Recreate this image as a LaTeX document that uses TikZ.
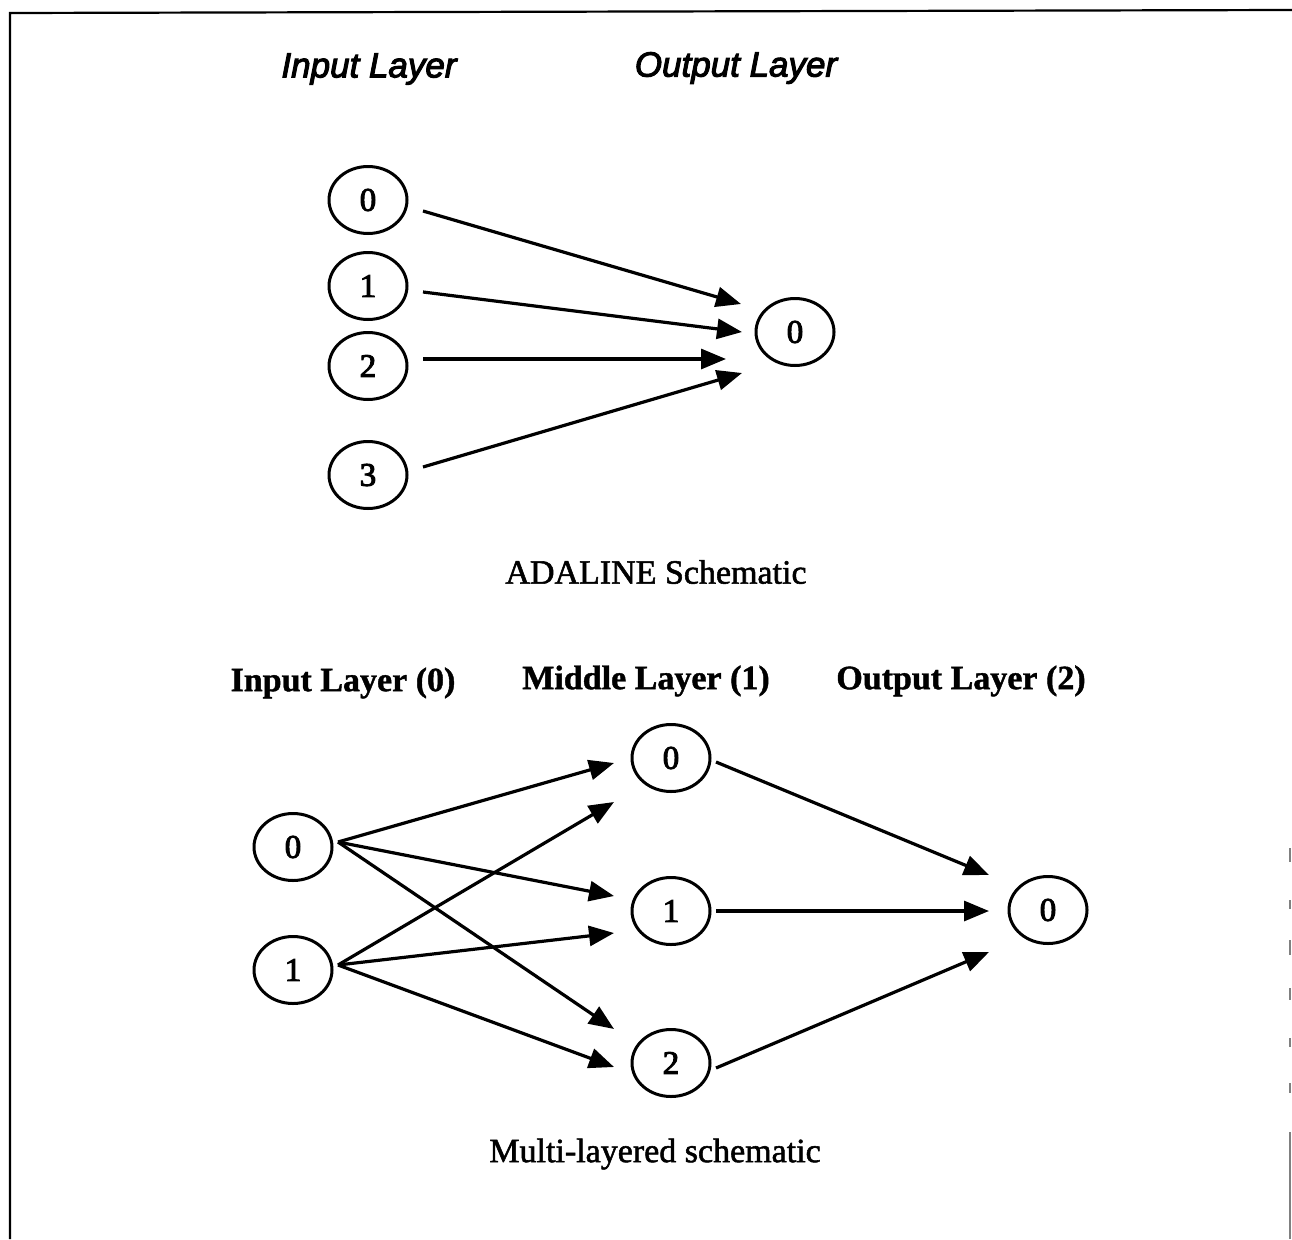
\documentclass[tikz,border=0pt]{standalone}
\usepackage{fontspec}
\setmainfont{Liberation Serif}
\newfontfamily\labelsans{Liberation Sans}
\usetikzlibrary{shapes.geometric,arrows.meta,calc}
\begin{document}
\begin{tikzpicture}[x=1pt,y=-1pt,
  unit/.style={ellipse,draw,line width=3pt,minimum width=78pt,minimum height=67pt,
    inner sep=0pt,font=\fontsize{33}{33}\selectfont\addfontfeature{FakeBold=3}},
  link/.style={line width=3.2pt,-{Triangle[length=25pt,width=20pt]}},
  caption/.style={font=\fontsize{34}{40}\selectfont\addfontfeature{FakeBold=1.6}},
  layerit/.style={font=\labelsans\itshape\fontsize{35}{40}\selectfont\addfontfeature{FakeBold=3}},
  layerbf/.style={font=\bfseries\fontsize{34}{40}\selectfont\addfontfeature{FakeBold=1.2}},
  frame/.style={line width=2.2pt},
  faint/.style={line width=1.8pt,black!50}]
\useasboundingbox (0,0) rectangle (1292,1239);

% page frame
\draw[frame] (10,1239) -- (10,13) -- (1292,10);
\foreach \a/\b in {848/862,900/909,940/955,988/1000,1038/1047,1083/1093}
  \draw[faint] (1290,\a) -- (1290,\b);
\draw[faint] (1290,1132) -- (1290,1239);

% ---------- ADALINE ----------
\node[layerit] (tin)  at (369,69) {Input Layer};
\node[layerit] (tout) at (736,68) {Output Layer};

\node[unit] (in0) at (368,200) {0};
\node[unit] (in1) at (368,286) {1};
\node[unit] (in2) at (368,366) {2};
\node[unit] (in3) at (368,475) {3};
\node[unit] (out0) at (795,332) {0};

\draw[link] ($(in0)+(55,11)$) -- ($(out0)+(-54,-28)$);
\draw[link] ($(in1)+(55,6)$)  -- ($(out0)+(-53,0)$);
\draw[link] ($(in2)+(55,-7)$) -- ($(out0)+(-69,27)$);
\draw[link] ($(in3)+(55,-8)$) -- ($(out0)+(-53,41)$);

\node[caption] (cap1) at (656,572) {ADALINE Schematic};

% ---------- Multi-layered ----------
\node[layerbf] (lin)  at (343,683) {Input Layer (0)};
\node[layerbf] (lmid) at (646,681) {Middle Layer (1)};
\node[layerbf] (lout) at (961,681) {Output Layer (2)};

\node[unit] (i0) at (293,847) {0};
\node[unit] (i1) at (293,970) {1};
\node[unit] (m0) at (671,758) {0};
\node[unit] (m1) at (671,911) {1};
\node[unit] (m2) at (671,1063) {2};
\node[unit] (o0) at (1048,910) {0};

\draw[link] ($(i0)+(45,-5)$) -- ($(m0)+(-57,5)$);
\draw[link] ($(i0)+(45,-5)$) -- ($(m1)+(-57,-15)$);
\draw[link] ($(i0)+(45,-5)$) -- ($(m2)+(-57,-34)$);
\draw[link] ($(i1)+(45,-5)$) -- ($(m0)+(-57,44)$);
\draw[link] ($(i1)+(45,-5)$) -- ($(m1)+(-57,22)$);
\draw[link] ($(i1)+(45,-5)$) -- ($(m2)+(-57,4)$);

\draw[link] ($(m0)+(45,4)$) -- ($(o0)+(-59,-35)$);
\draw[link] ($(m1)+(45,0)$) -- ($(o0)+(-59,1)$);
\draw[link] ($(m2)+(45,5)$) -- ($(o0)+(-59,42)$);

\node[caption] (cap2) at (655,1154) {Multi-layered schematic};
\end{tikzpicture}
\end{document}
